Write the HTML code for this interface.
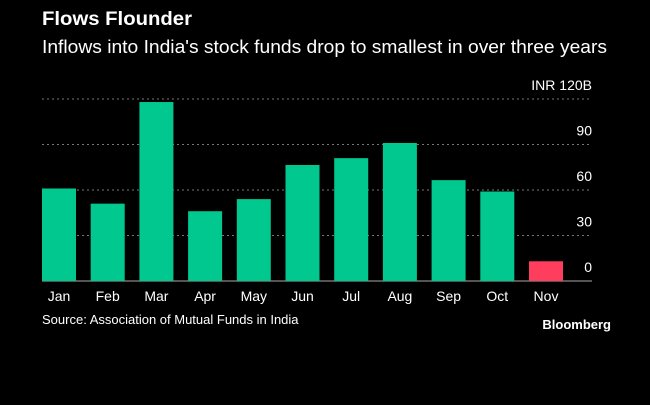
<!DOCTYPE html>
<html><head><meta charset="utf-8"><style>
body{margin:0;background:#000;width:650px;height:400px;overflow:hidden;font-family:"Liberation Sans",sans-serif;}
</style></head><body>
<svg width="650" height="400">
<rect width="650" height="400" fill="#000"/>
<text x="42" y="25" fill="#fff" font-size="19" font-weight="bold" textLength="150" lengthAdjust="spacingAndGlyphs">Flows Flounder</text>
<text x="42" y="53" fill="#fff" font-size="18" textLength="565" lengthAdjust="spacingAndGlyphs">Inflows into India's stock funds drop to smallest in over three years</text>
<g id="grid"></g><g id="bars"></g><g id="xl"></g>
<text x="42" y="324" fill="#fff" font-size="13">Source: Association of Mutual Funds in India</text>
<text x="611" y="329" fill="#fff" font-size="13" font-weight="bold" text-anchor="end">Bloomberg</text>
</svg>
<script>
const categories=["Jan","Feb","Mar","Apr","May","Jun","Jul","Aug","Sep","Oct","Nov"];
const values=[61,51,118,46,54,76.5,81,91,66.5,59,13];
const ticks=[0,30,60,90,120];
const tickLabels=["0","30","60","90","INR 120B"];
const ns="http://www.w3.org/2000/svg";
const y=v=>281-v*(182/120);
const x=i=>42+i*48.7;
function mk(t,a,p){const e=document.createElementNS(ns,t);for(const k in a)e.setAttribute(k,a[k]);p.appendChild(e);return e;}
const g=document.getElementById('grid'),b=document.getElementById('bars'),xl=document.getElementById('xl');
ticks.forEach((t,i)=>{
 const l=mk('line',{x1:42,x2:592,y1:y(t),y2:y(t),stroke:t===0?'#aaa':'#777','stroke-width':1,'stroke-dasharray':t===0?'':'2,3'},g);
 
 
 const tx=mk('text',{x:592,y:y(t)-9,fill:'#fff','font-size':14,'text-anchor':'end'},g);
 tx.textContent=tickLabels[i];
 
 
});
values.forEach((v,i)=>{
 const r=mk('rect',{x:x(i),y:y(v),width:34,height:281-y(v),fill:i===values.length-1?'#ff3d5c':'#00c88f'},b);
 
 
 const t=mk('text',{x:x(i)+17,y:301,fill:'#fff','font-size':14,'text-anchor':'middle'},xl);
 t.textContent=categories[i];
 
 
});
</script>
</body></html>
